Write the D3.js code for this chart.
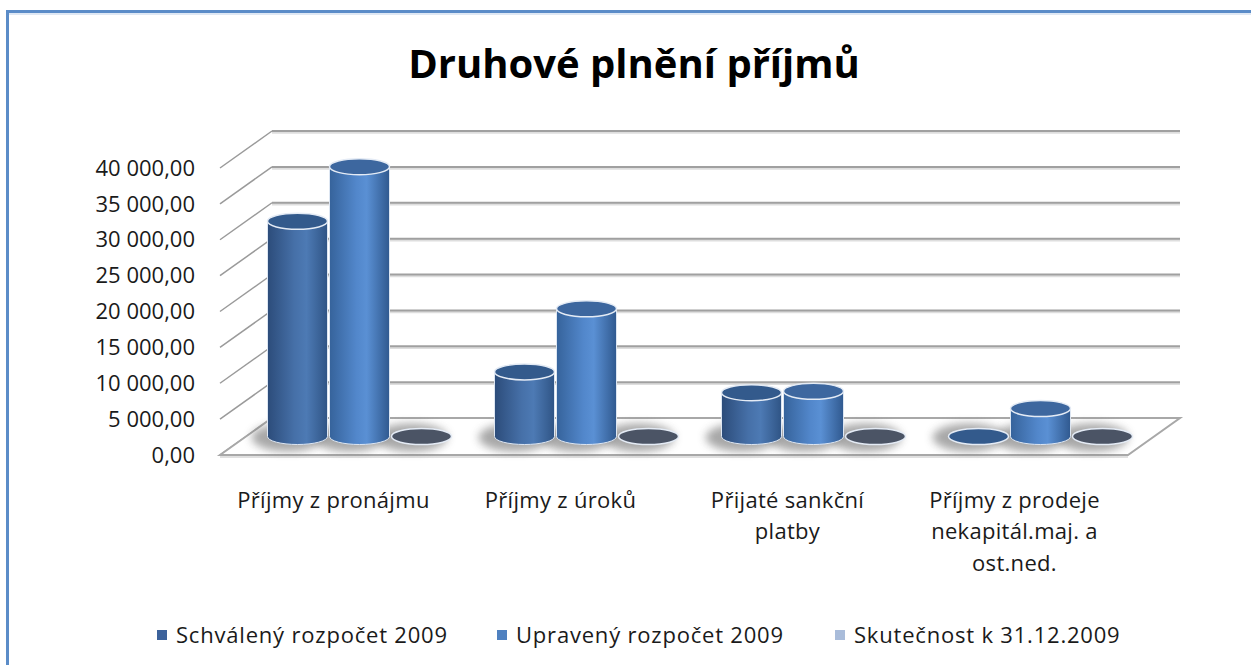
<!DOCTYPE html>
<html>
<head>
<meta charset="utf-8">
<script src="https://cdn.jsdelivr.net/npm/d3@7"></script>
<style>
  body { margin: 0; background: #fff; }
  text { font-family: "Open Sans", "Noto Sans", sans-serif; fill: #1a1a1a; }
</style>
</head>
<body>
<div id="chart"></div>
<script>
// chart data
const categories = ["Příjmy z pronájmu", "Příjmy z úroků", "Přijaté sankční platby", "Příjmy z prodeje nekapitál.maj. a ost.ned."];
const categoryLines = [["Příjmy z pronájmu"], ["Příjmy z úroků"], ["Přijaté sankční", "platby"], ["Příjmy z prodeje", "nekapitál.maj. a", "ost.ned."]];
const seriesNames = ["Schválený rozpočet 2009", "Upravený rozpočet 2009", "Skutečnost k 31.12.2009"];
const schvaleny = [30000, 9000, 6100, 0];
const upraveny = [37600, 17800, 6300, 3900];
const skutecnost = [0, 0, 0, 0];
const yTicks = [0, 5000, 10000, 15000, 20000, 25000, 30000, 35000, 40000];

const seriesValues = [schvaleny, upraveny, skutecnost];

// layout
const W = 1251, H = 665;
const front = {left: 220, right: 1128, bottom: 455};
const depth = {dx: 52, dy: -37};   // offset from front plane to back wall
const mid = {dx: depth.dx / 2, dy: depth.dy / 2};

const svg = d3.select("#chart").append("svg")
  .attr("width", W).attr("height", H);

const defs = svg.append("defs");
defs.append("filter").attr("id", "blur")
  .attr("x", "-50%").attr("y", "-100%").attr("width", "200%").attr("height", "300%")
  .append("feGaussianBlur").attr("stdDeviation", 4.5);

// body gradients for the cylinders
const bodyStops = [
  [["0%", "#2c4c7a"], ["45%", "#4670a8"], ["65%", "#4d7ab4"], ["100%", "#2f5485"]],
  [["0%", "#36639b"], ["45%", "#5287cb"], ["62%", "#5a90d4"], ["100%", "#30598f"]],
  [["0%", "#8ea6c8"], ["50%", "#b3c6e0"], ["100%", "#8ea6c8"]]
];
const topColors = ["#335a8c", "#3d679f", "#4b5465"];
const legendColors = ["#3c629b", "#4f81c0", "#a9bcda"];
bodyStops.forEach((stops, i) => {
  const g = defs.append("linearGradient").attr("id", "body" + i)
    .attr("x1", "0%").attr("x2", "100%").attr("y1", "0%").attr("y2", "0%");
  stops.forEach(s => g.append("stop").attr("offset", s[0]).attr("stop-color", s[1]));
});

// frame
svg.append("rect")
  .attr("x", 7.5).attr("y", 11.5).attr("width", W + 50).attr("height", H + 50)
  .attr("fill", "none").attr("stroke", "#5b8cc8").attr("stroke-width", 3);
svg.append("line").attr("x1", 9).attr("x2", W).attr("y1", 14).attr("y2", 14)
  .attr("stroke", "#dfe8f4").attr("stroke-width", 2);

// title
svg.append("text")
  .attr("x", 634).attr("y", 78)
  .attr("text-anchor", "middle")
  .style("font-size", "40px").style("font-weight", "bold")
  .style("fill", "#000")
  .text("Druhové plnění příjmů");

// scales
const x = d3.scaleBand().domain(categories).range([front.left, front.right]);
const xs = d3.scaleBand().domain(seriesNames).range([-93, 93]);
const y = d3.scaleLinear().domain([0, 40000]).range([0, 287]);
const fmt = d3.formatLocale({decimal: ",", thousands: " ", grouping: [3]}).format(",.2f");

// back wall gridlines and left diagonals
const grid = svg.append("g");
yTicks.forEach(t => {
  const yf = front.bottom - y(t);
  const yb = yf + depth.dy;
  if (t > 0) {
    grid.append("line")
      .attr("x1", front.left + depth.dx).attr("x2", front.right + depth.dx)
      .attr("y1", yb + 1.5).attr("y2", yb + 1.5)
      .attr("stroke", "#dedede").attr("stroke-width", 2.5);
    grid.append("line")
      .attr("x1", front.left + depth.dx).attr("x2", front.right + depth.dx)
      .attr("y1", yb).attr("y2", yb)
      .attr("stroke", "#a0a0a0").attr("stroke-width", 2);
  }
  grid.append("line")
    .attr("x1", front.left).attr("y1", yf)
    .attr("x2", front.left + depth.dx).attr("y2", yb)
    .attr("stroke", "#9a9a9a").attr("stroke-width", 1.5);
  grid.append("text")
    .attr("x", 195).attr("y", yf)
    .attr("dy", "0.35em")
    .attr("text-anchor", "end")
    .style("font-size", "22px")
    .text(fmt(t));
});

// floor
const floorPts = [
  [front.left, front.bottom], [front.right, front.bottom],
  [front.right + depth.dx, front.bottom + depth.dy], [front.left + depth.dx, front.bottom + depth.dy]
];
svg.append("polygon")
  .attr("points", floorPts.map(p => p.join(",")).join(" "))
  .attr("fill", "#fff").attr("stroke", "#a8a8a8").attr("stroke-width", 2);
svg.append("line")
  .attr("x1", front.left).attr("x2", front.right)
  .attr("y1", front.bottom + 2).attr("y2", front.bottom + 2)
  .attr("stroke", "#e0e0e0").attr("stroke-width", 2);

// bars
const bars = [];
categories.forEach((c, ci) => {
  seriesNames.forEach((s, si) => {
    bars.push({cat: c, ser: s, si: si, v: seriesValues[si][ci]});
  });
});

const r = 30, ry = 8;
const baseY = front.bottom + mid.dy;
const cxOf = d => x(d.cat) + x.bandwidth() / 2 + mid.dx + xs(d.ser) + xs.bandwidth() / 2;

// soft shadows on the floor
svg.append("g").selectAll("ellipse").data(bars).join("ellipse")
  .attr("cx", d => cxOf(d) - 10).attr("cy", baseY + 1)
  .attr("rx", r + 6).attr("ry", ry + 6)
  .attr("fill", "#6e6e6e").attr("opacity", 0.6)
  .attr("filter", "url(#blur)");

const barG = svg.append("g").selectAll("g").data(bars).join("g");

barG.filter(d => y(d.v) > 0.5).append("path")
  .attr("d", d => {
    const cx = cxOf(d), top = baseY - y(d.v);
    return `M${cx - r},${top} L${cx - r},${baseY} A${r},${ry} 0 0 0 ${cx + r},${baseY} L${cx + r},${top} Z`;
  })
  .attr("fill", d => `url(#body${d.si})`)
  .attr("stroke", "#dde6f2").attr("stroke-width", 1);

barG.append("ellipse")
  .attr("cx", d => cxOf(d)).attr("cy", d => baseY - y(d.v))
  .attr("rx", r).attr("ry", ry)
  .attr("fill", d => topColors[d.si])
  .attr("stroke", "#e4ebf5").attr("stroke-width", 1.5);

// category labels
const catG = svg.append("g");
categories.forEach((c, ci) => {
  categoryLines[ci].forEach((ln, li) => {
    catG.append("text")
      .attr("x", x(c) + x.bandwidth() / 2).attr("y", 500 + li * 31.5)
      .attr("dy", "0.35em").attr("text-anchor", "middle")
      .style("font-size", "22px").style("letter-spacing", "0.3px")
      .text(ln);
  });
});

// legend
const legendX = [157, 497, 835];
const leg = svg.append("g");
seriesNames.forEach((s, i) => {
  leg.append("rect")
    .attr("x", legendX[i]).attr("y", 630).attr("width", 10).attr("height", 10)
    .attr("fill", legendColors[i]);
  leg.append("text")
    .attr("x", legendX[i] + 19).attr("y", 635)
    .attr("dy", "0.35em")
    .style("font-size", "22px").style("letter-spacing", "0.8px")
    .text(s);
});
</script>
</body>
</html>
